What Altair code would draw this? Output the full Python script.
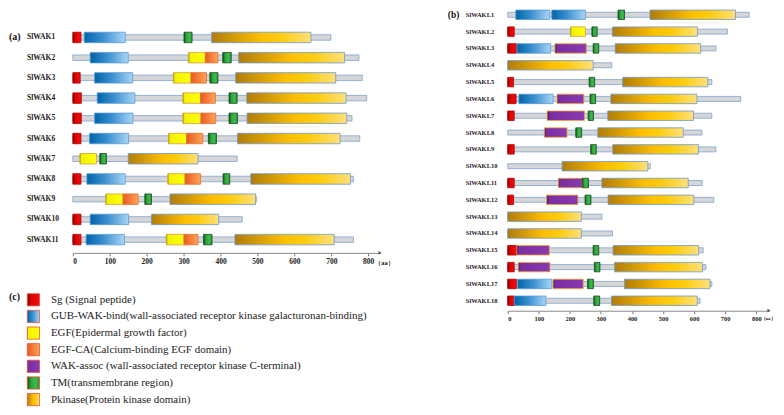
import altair as alt
import pandas as pd

# ---------------- data ----------------
A_NAMES = ["SlWAK1", "SlWAK2", "SlWAK3", "SlWAK4", "SlWAK5", "SlWAK6",
           "SlWAK7", "SlWAK8", "SlWAK9", "SlWAK10", "SlWAK11"]
A_LENGTHS = [699, 775, 784, 796, 756, 777, 445, 760, 497, 459, 760]
A_DOMAINS = [
    ("SlWAK1", "Sg", 0, 22), ("SlWAK1", "GUB", 31, 142), ("SlWAK1", "TM", 301, 323), ("SlWAK1", "Pkinase", 376, 645),
    ("SlWAK2", "GUB", 47, 150), ("SlWAK2", "EGF", 313, 359), ("SlWAK2", "EGF-CA", 359, 393), ("SlWAK2", "TM", 406, 429), ("SlWAK2", "Pkinase", 449, 736),
    ("SlWAK3", "Sg", 0, 20), ("SlWAK3", "GUB", 59, 162), ("SlWAK3", "EGF", 272, 320), ("SlWAK3", "EGF-CA", 320, 362), ("SlWAK3", "TM", 371, 393), ("SlWAK3", "Pkinase", 441, 712),
    ("SlWAK4", "Sg", 0, 23), ("SlWAK4", "GUB", 66, 168), ("SlWAK4", "EGF", 298, 346), ("SlWAK4", "EGF-CA", 346, 386), ("SlWAK4", "TM", 423, 445), ("SlWAK4", "Pkinase", 471, 740),
    ("SlWAK5", "Sg", 0, 23), ("SlWAK5", "GUB", 59, 163), ("SlWAK5", "EGF", 298, 347), ("SlWAK5", "EGF-CA", 347, 387), ("SlWAK5", "TM", 423, 446), ("SlWAK5", "Pkinase", 472, 742),
    ("SlWAK6", "Sg", 0, 22), ("SlWAK6", "GUB", 45, 151), ("SlWAK6", "EGF", 259, 308), ("SlWAK6", "EGF-CA", 308, 352), ("SlWAK6", "TM", 367, 389), ("SlWAK6", "Pkinase", 446, 724),
    ("SlWAK7", "EGF", 19, 64), ("SlWAK7", "TM", 73, 91), ("SlWAK7", "Pkinase", 150, 339),
    ("SlWAK8", "Sg", 0, 22), ("SlWAK8", "GUB", 38, 142), ("SlWAK8", "EGF", 257, 304), ("SlWAK8", "EGF-CA", 304, 346), ("SlWAK8", "TM", 407, 425), ("SlWAK8", "Pkinase", 482, 752),
    ("SlWAK9", "EGF", 89, 136), ("SlWAK9", "EGF-CA", 136, 177), ("SlWAK9", "TM", 195, 213), ("SlWAK9", "Pkinase", 263, 495),
    ("SlWAK10", "Sg", 0, 22), ("SlWAK10", "GUB", 47, 151), ("SlWAK10", "Pkinase", 213, 395),
    ("SlWAK11", "Sg", 0, 22), ("SlWAK11", "GUB", 36, 140), ("SlWAK11", "EGF", 253, 301), ("SlWAK11", "EGF-CA", 301, 339), ("SlWAK11", "TM", 354, 377), ("SlWAK11", "Pkinase", 439, 708),
]

B_NAMES = ["SlWAKL1", "SlWAKL2", "SlWAKL3", "SlWAKL4", "SlWAKL5", "SlWAKL6",
           "SlWAKL7", "SlWAKL8", "SlWAKL9", "SlWAKL10", "SlWAKL11", "SlWAKL12",
           "SlWAKL13", "SlWAKL14", "SlWAKL15", "SlWAKL16", "SlWAKL17", "SlWAKL18"]
B_LENGTHS = [777, 707, 670, 335, 657, 750, 657, 625, 670, 459, 626, 663, 303, 337, 629, 638, 657, 619]
B_DOMAINS = [
    ("SlWAKL1", "GUB", 26, 135), ("SlWAKL1", "GUB", 142, 250), ("SlWAKL1", "TM", 355, 376), ("SlWAKL1", "Pkinase", 458, 733),
    ("SlWAKL2", "Sg", 0, 21), ("SlWAKL2", "EGF", 202, 250), ("SlWAKL2", "TM", 271, 288), ("SlWAKL2", "Pkinase", 337, 611),
    ("SlWAKL3", "Sg", 0, 28), ("SlWAKL3", "GUB", 30, 138), ("SlWAKL3", "WAK", 152, 253), ("SlWAKL3", "TM", 275, 293), ("SlWAKL3", "Pkinase", 346, 621),
    ("SlWAKL4", "Pkinase", 0, 275),
    ("SlWAKL5", "Sg", 0, 19), ("SlWAKL5", "TM", 262, 280), ("SlWAKL5", "Pkinase", 370, 644),
    ("SlWAKL6", "Sg", 0, 27), ("SlWAKL6", "GUB", 36, 146), ("SlWAKL6", "WAK", 159, 245), ("SlWAKL6", "TM", 265, 283), ("SlWAKL6", "Pkinase", 332, 609),
    ("SlWAKL7", "Sg", 0, 21), ("SlWAKL7", "WAK", 127, 247), ("SlWAKL7", "TM", 259, 276), ("SlWAKL7", "Pkinase", 322, 598),
    ("SlWAKL8", "WAK", 118, 191), ("SlWAKL8", "TM", 219, 238), ("SlWAKL8", "Pkinase", 290, 565),
    ("SlWAKL9", "Sg", 0, 21), ("SlWAKL9", "TM", 267, 285), ("SlWAKL9", "Pkinase", 338, 614),
    ("SlWAKL10", "Pkinase", 175, 451),
    ("SlWAKL11", "Sg", 0, 21), ("SlWAKL11", "WAK", 163, 240), ("SlWAKL11", "TM", 240, 260), ("SlWAKL11", "Pkinase", 303, 581),
    ("SlWAKL12", "Sg", 0, 19), ("SlWAKL12", "WAK", 125, 226), ("SlWAKL12", "TM", 249, 268), ("SlWAKL12", "Pkinase", 323, 599),
    ("SlWAKL13", "Pkinase", 0, 237),
    ("SlWAKL14", "Pkinase", 0, 237),
    ("SlWAKL15", "Sg", 0, 29), ("SlWAKL15", "WAK", 29, 134), ("SlWAKL15", "TM", 275, 293), ("SlWAKL15", "Pkinase", 339, 615),
    ("SlWAKL16", "Sg", 0, 21), ("SlWAKL16", "WAK", 34, 136), ("SlWAKL16", "TM", 279, 297), ("SlWAKL16", "Pkinase", 344, 627),
    ("SlWAKL17", "Sg", 0, 28), ("SlWAKL17", "GUB", 32, 142), ("SlWAKL17", "WAK", 146, 243), ("SlWAKL17", "TM", 257, 276), ("SlWAKL17", "Pkinase", 376, 651),
    ("SlWAKL18", "Sg", 0, 21), ("SlWAKL18", "GUB", 21, 123), ("SlWAKL18", "TM", 277, 296), ("SlWAKL18", "Pkinase", 334, 610),
]

AXIS_TICKS = [0, 100, 200, 300, 400, 500, 600, 700, 800]
DOMAIN_TYPES = ["Sg", "GUB", "EGF", "EGF-CA", "WAK", "TM", "Pkinase"]
LEGEND_LABELS = [
    "Sg (Signal peptide)",
    "GUB-WAK-bind(wall-associated receptor kinase galacturonan-binding)",
    "EGF(Epidermal growth factor)",
    "EGF-CA(Calcium-binding EGF domain)",
    "WAK-assoc (wall-associated receptor kinase C-terminal)",
    "TM(transmembrane region)",
    "Pkinase(Protein kinase domain)",
]

SERIF = "Liberation Serif"


def grad(stops):
    return {"gradient": "linear", "x1": 0, "y1": 0, "x2": 1, "y2": 0,
            "stops": [{"offset": o, "color": c} for o, c in stops]}


STYLE = {
    "Sg": (grad([(0, "#7a0000"), (0.3, "#dd0000"), (1, "#ee1010")]), "#b00000"),
    "GUB": (grad([(0, "#0064a8"), (0.45, "#3a8fd0"), (1, "#a9d5f5")]), "#5b9bd5"),
    "EGF": (grad([(0, "#9a9a00"), (0.1, "#f2f200"), (1, "#ffff10")]), "#d4a040"),
    "EGF-CA": (grad([(0, "#ea5a20"), (1, "#ffa45a")]), "#e07030"),
    "WAK": (grad([(0, "#4a1260"), (0.08, "#7a2ea0"), (1, "#8a38b0")]), "#f0a830"),
    "TM": (grad([(0, "#0d4d12"), (0.3, "#2ca53a"), (0.7, "#3dbb4d"), (1, "#2a8a35")]), "#1e4e1e"),
    "Pkinase": (grad([(0, "#b07d0a"), (0.5, "#ffbf00"), (0.7, "#ffcc10"), (1, "#ffe07a")]), "#6a9ad0"),
}


def panel_layers(names, lengths, domains, width, height, xmax, pad_top, pad_bottom,
                 bar_h, bb_h, label_x, label_size, tick_size, tag, tag_x, tag_size,
                 title_x, title_y, title_size):
    n = len(names)
    order = {nm: i for i, nm in enumerate(names)}
    bb = pd.DataFrame({"name": names, "idx": list(range(n)), "start": [0] * n, "end": lengths})
    dm = pd.DataFrame(domains, columns=["name", "type", "start", "end"])
    dm["idx"] = dm["name"].map(order)

    xscale = alt.Scale(domain=[0, xmax], nice=False, zero=False, padding=0)
    yscale = alt.Scale(domain=[-pad_top, n - 1 + pad_bottom], reverse=True, nice=False, zero=False, padding=0)
    xenc = alt.X("start:Q", scale=xscale,
                 axis=alt.Axis(values=AXIS_TICKS, title="（aa）", grid=False,
                               labelFont=SERIF, labelFontWeight="bold", labelFontSize=tick_size,
                               labelColor="#222", labelPadding=2, tickSize=3,
                               tickColor="#777", domainColor="#8a8a8a", domainWidth=1,
                               titleFont=SERIF, titleFontSize=title_size, titleFontWeight="bold",
                               titleColor="#222", titleX=title_x, titleY=title_y,
                               titleAlign="center", titleBaseline="middle"))
    yenc = alt.Y("idx:Q", scale=yscale, axis=None)

    layers = [
        alt.Chart(bb).mark_bar(size=bb_h, fill="#d6d6d6", stroke="#7ea3d3", strokeWidth=0.8)
        .encode(x=xenc, x2="end:Q", y=yenc)
    ]
    for t in DOMAIN_TYPES:
        sub = dm[dm["type"] == t]
        if len(sub) == 0:
            continue
        fill, stroke = STYLE[t]
        layers.append(
            alt.Chart(sub).mark_bar(size=bar_h, fill=fill, stroke=stroke, strokeWidth=0.8)
            .encode(x=xenc, x2="end:Q", y=yenc)
        )
    layers.append(
        alt.Chart(bb).mark_text(align="left", baseline="middle", font=SERIF, fontWeight="bold",
                                fontSize=label_size, color="#222")
        .encode(y=yenc, x=alt.value(label_x), text="name:N")
    )
    layers.append(
        alt.Chart(bb.head(1)).mark_text(align="left", baseline="middle", font=SERIF, fontWeight="bold",
                                        fontSize=tag_size, color="#111")
        .encode(y=yenc, x=alt.value(tag_x), text=alt.value(tag))
    )
    layers.append(
        alt.Chart(bb.head(1)).mark_point(shape="triangle-right", filled=True, size=14, color="#555", opacity=1)
        .encode(x=alt.value(width), y=alt.value(height))
    )
    return layers


# panel (a) + legend (c) in one layered view (legend uses its own y scale)
a_layers = panel_layers(A_NAMES, A_LENGTHS, A_DOMAINS, 308, 243, 832, 1.332, 0.656,
                        10.5, 5.5, -46, 7.6, 7.5, "(a)", -64, 10, 312, 10, 6.5)

leg = pd.DataFrame({"type": DOMAIN_TYPES, "label": LEGEND_LABELS, "idx": list(range(len(DOMAIN_TYPES)))})
# legend rows placed below the (a) plot area: row i sits 290 + 16.67*i px below the plot top
lscale = alt.Scale(domain=[-17.4, -2.823], reverse=True, nice=False, zero=False, padding=0)
lyenc = alt.Y("idx:Q", scale=lscale, axis=None)
for t in DOMAIN_TYPES:
    fill, _ = STYLE[t]
    a_layers.append(
        alt.Chart(leg[leg["type"] == t]).mark_square(size=150, fill=fill, stroke="#e8503a",
                                                     strokeWidth=0.8, opacity=1, filled=True)
        .encode(y=lyenc, x=alt.value(-39.5))
    )
a_layers.append(
    alt.Chart(leg).mark_text(align="left", baseline="middle", font=SERIF, fontSize=11, color="#222")
    .encode(y=lyenc, x=alt.value(-22), text="label:N")
)
a_layers.append(
    alt.Chart(leg.head(1)).mark_text(align="left", baseline="middle", font=SERIF, fontWeight="bold",
                                     fontSize=10, color="#111")
    .encode(y=alt.value(287.7), x=alt.value(-64), text=alt.value("(c)"))
)
panel_a = alt.layer(*a_layers).resolve_scale(y="independent").properties(width=308, height=243)

b_layers = panel_layers(B_NAMES, B_LENGTHS, B_DOMAINS, 262, 301, 841, 0.255, 0.593,
                        9.5, 5, -42, 6.5, 6.5, "(b)", -60, 9.5, 260.5, 7, 5)
panel_b = alt.layer(*b_layers).properties(width=262, height=301)

chart = alt.hconcat(panel_a, panel_b, spacing=128, bounds="flush").properties(padding=0).configure_view(
    stroke="transparent")

chart.save("out.html", embed_options={"renderer": "svg", "actions": False})
